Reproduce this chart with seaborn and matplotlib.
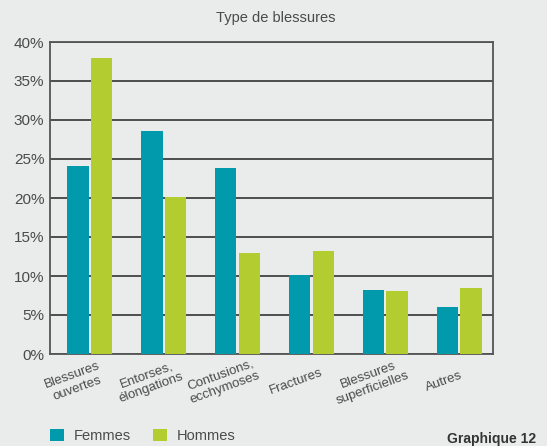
import matplotlib
matplotlib.use("Agg")
import matplotlib.pyplot as plt
import matplotlib.transforms as mtransforms
import seaborn as sns
import pandas as pd
from matplotlib.patches import Patch
from matplotlib.ticker import FuncFormatter

categories = ["Blessures\nouvertes", "Entorses,\nélongations", "Contusions,\necchymoses",
              "Fractures", "Blessures\nsuperficielles", "Autres"]
femmes = [24.1, 28.6, 23.8, 10.1, 8.2, 6.0]
hommes = [37.9, 20.1, 12.9, 13.2, 8.1, 8.5]
series = ["Femmes", "Hommes"]
colors = ["#009aac", "#b3cc2f"]
yticks = [0, 5, 10, 15, 20, 25, 30, 35, 40]

df = pd.DataFrame({
    "cat": categories * 2,
    "val": femmes + hommes,
    "sexe": [series[0]] * len(categories) + [series[1]] * len(categories),
})

bg = "#eaeceb"
sns.set_theme(style="white")
plt.rcParams["font.family"] = ["Liberation Sans", "DejaVu Sans"]
txt = "#4a4a4a"

fig = plt.figure(figsize=(5.47, 4.46), dpi=100, facecolor=bg)
ax = fig.add_axes([50/547, 1-354/446, 443/547, 312/446])
ax.set_facecolor(bg)

sns.barplot(data=df, x="cat", y="val", hue="sexe", palette=colors, ax=ax,
            width=0.64, gap=0.1, saturation=1, legend=False, zorder=3,
            linewidth=0, edgecolor="none")
bar_shift = mtransforms.ScaledTranslation(3/100, 0, fig.dpi_scale_trans)
for p in ax.patches:
    p.set_transform(ax.transData + bar_shift)

ax.set_ylim(0, 40)
ax.set_yticks(yticks)
ax.yaxis.set_major_formatter(FuncFormatter(lambda v, p: f"{int(v)}%"))
for y in yticks:
    ax.axhline(y, color="#333333", lw=1.2, zorder=2)
for s in ax.spines.values():
    s.set_color("#555555")
    s.set_linewidth(1.3)
    s.set_visible(True)
ax.set_xlabel("")
ax.set_ylabel("")
ax.tick_params(axis="y", length=0, labelsize=11, labelcolor=txt, pad=4)
ax.tick_params(axis="x", length=0, labelsize=9.5, labelcolor=txt, pad=20)
offset = mtransforms.ScaledTranslation(-12/100, 0, fig.dpi_scale_trans)
for lab in ax.get_xticklabels():
    lab.set_rotation(20)
    lab.set_ha("center")
    lab.set_multialignment("center")
    lab.set_rotation_mode("anchor")
    lab.set_va("center")
    lab.set_transform(lab.get_transform() + offset)

fig.text(0.505, 1-18/446, "Type de blessures", ha="center", va="center",
         fontsize=10.5, color=txt)

handles = [Patch(facecolor=c, edgecolor="none") for c in colors]
fig.legend(handles, series, loc="center left", bbox_to_anchor=(50/547, 1-436/446),
           ncol=2, frameon=False, fontsize=10.5, labelcolor=txt,
           borderpad=0, borderaxespad=0,
           handlelength=0.95, handleheight=0.95, handletextpad=0.7, columnspacing=1.5)

fig.text(447/547, 0.0, "Graphique 12", ha="left", va="bottom",
         fontsize=10, fontweight="bold", color="#333333")

fig.savefig("out.png", dpi=100, facecolor=bg)
